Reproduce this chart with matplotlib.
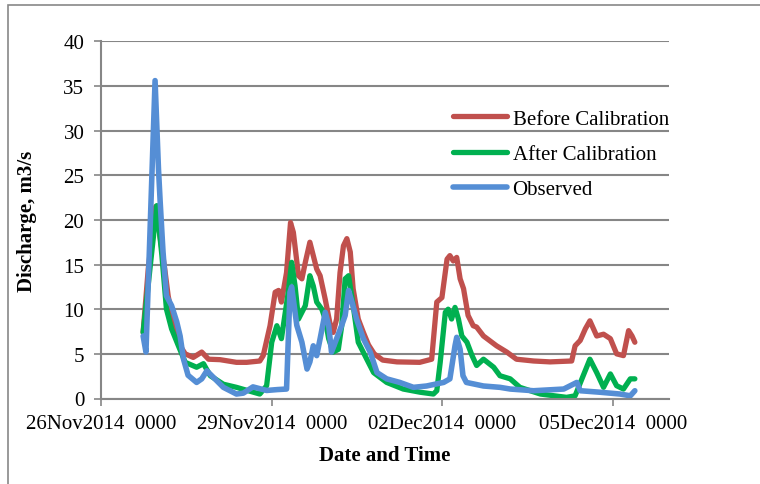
import numpy as np
import matplotlib
matplotlib.use("Agg")
import matplotlib.pyplot as plt
from matplotlib.patches import Rectangle

plt.rcParams['font.family'] = ['Liberation Serif', 'DejaVu Serif']

# days since 26Nov2014 0000
obs_t = [0.74, 0.79, 0.95, 1.01, 1.04, 1.09, 1.15, 1.24, 1.33, 1.39, 1.45, 1.53, 1.68, 1.77,
         1.86, 1.97, 2.15, 2.38, 2.50, 2.67, 2.91, 3.10, 3.26, 3.32, 3.35, 3.44, 3.53, 3.62,
         3.67, 3.73, 3.79, 3.85, 3.94, 4.00, 4.05, 4.14, 4.23, 4.29, 4.35, 4.41, 4.49, 4.61,
         4.73, 4.85, 5.02, 5.25, 5.49, 5.72, 6.02, 6.13, 6.22, 6.25, 6.31, 6.36, 6.42, 6.72,
         7.01, 7.19, 7.60, 8.13, 8.36, 8.42, 8.77, 9.12, 9.30, 9.38]
obs_q = [7.0, 5.2, 35.6, 25.7, 22.0, 16.4, 11.5, 10.4, 8.6, 7.0, 4.4, 2.6, 1.8, 2.2,
         3.1, 2.4, 1.25, 0.5, 0.6, 1.3, 0.9, 1.0, 1.06, 11.9, 12.5, 8.2, 6.3, 3.3,
         4.1, 5.9, 4.8, 6.7, 9.65, 8.2, 5.2, 6.7, 8.2, 9.3, 12.1, 10.8, 8.9, 6.7,
         5.2, 2.9, 2.2, 1.8, 1.25, 1.4, 1.8, 2.2, 5.9, 6.85, 5.5, 2.55, 1.8, 1.4,
         1.25, 1.06, 0.87, 1.06, 1.8, 0.87, 0.7, 0.5, 0.3, 0.87]

after_t = [0.74, 0.98, 1.07, 1.15, 1.24, 1.36, 1.48, 1.68, 1.80, 1.92, 2.15, 2.38, 2.79,
           2.91, 3.00, 3.09, 3.17, 3.29, 3.35, 3.41, 3.47, 3.59, 3.67, 3.73, 3.79, 3.88,
           3.94, 4.00, 4.08, 4.17, 4.23, 4.29, 4.35, 4.44, 4.52, 4.67, 4.79, 5.02, 5.31,
           5.61, 5.84, 5.90, 5.96, 6.05, 6.10, 6.16, 6.22, 6.28, 6.34, 6.43, 6.52, 6.60,
           6.72, 6.90, 7.01, 7.19, 7.36, 7.72, 8.18, 8.33, 8.45, 8.59, 8.71, 8.83, 8.95,
           9.06, 9.18, 9.30, 9.38]
after_q = [7.4, 21.6, 16.0, 10.0, 7.8, 5.9, 4.05, 3.5, 3.9, 2.55, 1.6, 1.25, 0.5,
           1.43, 6.3, 8.15, 6.7, 11.9, 15.25, 12.6, 8.9, 10.4, 13.75, 12.6, 10.8, 10.0,
           8.9, 6.7, 5.2, 5.5, 8.15, 13.4, 13.75, 10.0, 6.3, 4.4, 2.9, 1.8, 1.06,
           0.7, 0.5, 0.87, 4.05, 9.65, 10.0, 8.9, 10.2, 8.9, 7.0, 6.3, 4.8, 3.7,
           4.4, 3.5, 2.55, 2.2, 1.25, 0.5, 0.13, 0.3, 2.2, 4.4, 2.9, 1.25, 2.75,
           1.43, 1.06, 2.2, 2.2]

before_t = [0.74, 0.83, 0.96, 1.12, 1.18, 1.27, 1.39, 1.48, 1.62, 1.77, 1.89, 2.09, 2.38,
            2.56, 2.79, 2.85, 2.97, 3.06, 3.12, 3.17, 3.26, 3.33, 3.38, 3.47, 3.53, 3.59,
            3.67, 3.73, 3.79, 3.85, 3.94, 4.02, 4.08, 4.14, 4.20, 4.26, 4.32, 4.38, 4.43,
            4.52, 4.61, 4.70, 4.80, 4.95, 5.20, 5.60, 5.81, 5.90, 5.99, 6.08, 6.13, 6.19,
            6.25, 6.31, 6.37, 6.45, 6.54, 6.60, 6.72, 6.95, 7.13, 7.30, 7.60, 7.89, 8.27,
            8.33, 8.42, 8.51, 8.59, 8.71, 8.83, 8.95, 9.06, 9.18, 9.27, 9.33, 9.38]
before_q = [7.4, 14.5, 21.5, 14.5, 11.5, 8.5, 5.9, 5.0, 4.6, 5.2, 4.4, 4.35, 4.05,
            4.05, 4.2, 4.8, 8.15, 11.9, 12.1, 10.8, 14.1, 19.7, 18.6, 13.75, 13.4, 15.25,
            17.5, 16.0, 14.5, 13.75, 11.1, 8.5, 7.4, 8.9, 14.1, 17.1, 17.9, 16.4, 12.3,
            8.9, 7.4, 6.0, 5.0, 4.3, 4.1, 4.05, 4.4, 10.8, 11.3, 15.6, 16.0, 15.4,
            15.8, 13.4, 12.3, 9.3, 8.15, 8.0, 7.0, 5.9, 5.2, 4.4, 4.2, 4.1, 4.2,
            5.9, 6.5, 7.8, 8.7, 7.0, 7.2, 6.7, 5.0, 4.8, 7.6, 7.0, 6.3]

tick_days = [0, 3, 6, 9]
tick_labels = ['26Nov2014  0000', '29Nov2014  0000', '02Dec2014  0000', '05Dec2014  0000']

fig = plt.figure(figsize=(7.6, 4.85), dpi=100)
ax = fig.add_axes([101/760, 1-399.5/485, 568/760, 357.2/485])

ax.plot(before_t, before_q, color='#C0504D', lw=3.8, label='Before Calibration',
        solid_capstyle='round', solid_joinstyle='round')
ax.plot(after_t, after_q, color='#00B050', lw=3.8, label='After Calibration',
        solid_capstyle='round', solid_joinstyle='round')
ax.plot(obs_t, obs_q, color='#558ED5', lw=4.0, label='Observed',
        solid_capstyle='round', solid_joinstyle='round')

ax.set_xlim(0, 9.98)
ax.set_ylim(0, 40)
ax.set_yticks(range(0, 45, 5))
ax.set_xticks(tick_days)
ax.set_xticklabels(tick_labels)
ax.grid(axis='y', color='#868686', lw=1.5)
ax.set_axisbelow(True)
for s in ['top', 'right']:
    ax.spines[s].set_visible(False)
for s in ['left', 'bottom']:
    ax.spines[s].set_color('#868686')
    ax.spines[s].set_linewidth(1.5)
ax.tick_params(colors='#868686', labelcolor='black', labelsize=15, width=1.2, length=5)
ax.tick_params(axis='x', pad=6)
ax.tick_params(axis='y', pad=7)

ax.set_ylabel('Discharge, m3/s', fontsize=15, fontweight='bold', labelpad=19)
ax.set_xlabel('Date and Time', fontsize=15, fontweight='bold', labelpad=9)

leg = ax.legend(loc='upper left', bbox_to_anchor=(0.62, 0.81), frameon=False, fontsize=15,
                handlelength=2.6, handletextpad=0.25, labelspacing=0.75, borderaxespad=0,
                borderpad=0)

fig.patches.append(Rectangle((8/760, -0.1), 1.2, 1.1 - 6/485, transform=fig.transFigure,
                             fill=False, edgecolor='#888888', lw=1.2))

fig.savefig('out.png', dpi=100)
